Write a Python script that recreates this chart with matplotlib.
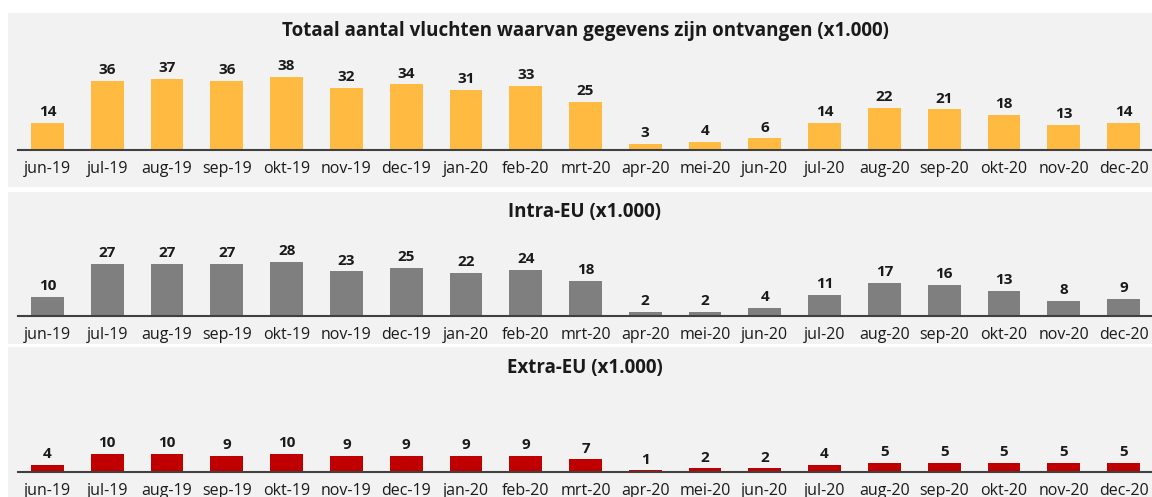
import matplotlib.pyplot as plt
from matplotlib.patches import Rectangle

plt.rcParams['font.family'] = ['Open Sans', 'DejaVu Sans']

# maanden
maanden = ['jun-19', 'jul-19', 'aug-19', 'sep-19', 'okt-19', 'nov-19', 'dec-19',
           'jan-20', 'feb-20', 'mrt-20', 'apr-20', 'mei-20', 'jun-20', 'jul-20',
           'aug-20', 'sep-20', 'okt-20', 'nov-20', 'dec-20']

totaal = [14, 36, 37, 36, 38, 32, 34, 31, 33, 25, 3, 4, 6, 14, 22, 21, 18, 13, 14]
intra_eu = [10, 27, 27, 27, 28, 23, 25, 22, 24, 18, 2, 2, 4, 11, 17, 16, 13, 8, 9]
extra_eu = [4, 10, 10, 9, 10, 9, 9, 9, 9, 7, 1, 2, 2, 4, 5, 5, 5, 5, 5]

titels = ['Totaal aantal vluchten waarvan gegevens zijn ontvangen (x1.000)',
          'Intra-EU (x1.000)', 'Extra-EU (x1.000)']
kleuren = ['#FFBA42', '#7F7F7F', '#C00000']

W, H = 1152, 497
fig = plt.figure(figsize=(W / 100, H / 100), dpi=100)
fig.patch.set_facecolor('white')

# (panel top, panel bottom, baseline, ymax, titel y)
panelen = [(13, 187, 150, 71, 31), (192, 344, 316, 64, 212), (347, 497, 472, 69, 368)]

def fx(x):
    return x / W

def fy(y):
    return 1 - y / H

for data, titel, kleur, (top, bot, base, ymax, ty) in zip(
        [totaal, intra_eu, extra_eu], titels, kleuren, panelen):
    # grijze achtergrond
    fig.patches.append(Rectangle((fx(8), fy(bot)), fx(W - 8), (bot - top) / H,
                                 transform=fig.transFigure, facecolor='#F2F2F2',
                                 edgecolor='none', zorder=-5))
    ax = fig.add_axes([fx(17.6), fy(base), fx(1153.4 - 17.6), (base - top) / H])
    ax.set_facecolor('none')
    ax.set_zorder(2)
    x = range(len(maanden))
    ax.bar(x, data, width=0.55, color=kleur, edgecolor='none')
    for xi, v in zip(x, data):
        ax.text(xi, v + 2, str(v), ha='center', va='bottom', fontsize=11,
                fontweight='bold', color='#1a1a1a')
    ax.set_xlim(-0.5, len(maanden) - 0.5)
    ax.set_ylim(0, ymax)
    ax.set_xticks(list(x))
    ax.set_xticklabels(maanden, fontsize=11.5, color='#1a1a1a')
    ax.tick_params(axis='x', length=0, pad=8)
    ax.set_yticks([])
    for s in ['top', 'left', 'right']:
        ax.spines[s].set_visible(False)
    ax.spines['bottom'].set_color('#404040')
    ax.spines['bottom'].set_linewidth(1.5)
    fig.text(fx(585), fy(ty), titel, ha='center', va='center',
             fontsize=13.5, fontweight='bold', color='#1a1a1a')

plt.savefig('out.png', dpi=100)
